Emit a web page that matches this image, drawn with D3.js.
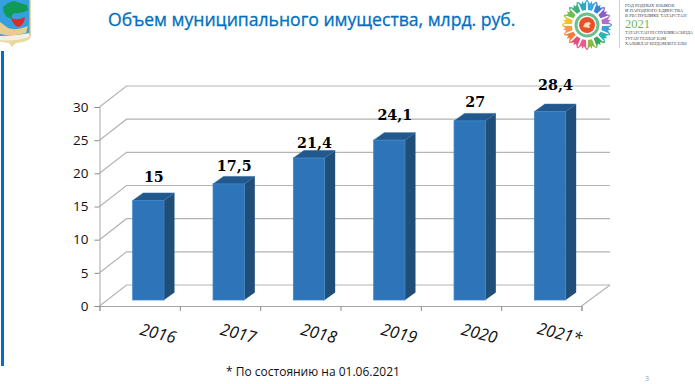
<!DOCTYPE html>
<html>
<head>
<meta charset="utf-8">
<script src="https://cdn.jsdelivr.net/npm/d3@7/dist/d3.min.js"></script>
<style>
  html, body { margin: 0; padding: 0; background: #fff; }
  svg { display: block; }
  text { font-family: "Open Sans", sans-serif; }
  .domain { stroke: #a6a6a6; }
  .tick line { stroke: #8c8c8c; }
</style>
</head>
<body>
<div id="chart"></div>
<script>
// chart values
const years = ["2016", "2017", "2018", "2019", "2020", "2021*"];
const values = [15, 17.5, 21.4, 24.1, 27, 28.4];
const valueLabels = ["15", "17,5", "21,4", "24,1", "27", "28,4"];
const labelLift = [19, 13, 10, 20, 14, 22]; // labels sit unevenly in the original
const yTicks = [0, 5, 10, 15, 20, 25, 30];

// logo bits
const petalColors = ["#38a9e0", "#3f7fd0", "#8a5fc0", "#b070c8", "#3aa0dc", "#2bb5b0", "#35a860", "#8fb840",
                     "#e85a90", "#e0507a", "#f07a40", "#f59a40", "#f5c030", "#6fbf50", "#3fb080", "#30a8c0"];
const logoLines1 = ["ГОД РОДНЫХ ЯЗЫКОВ", "И НАРОДНОГО ЕДИНСТВА", "В РЕСПУБЛИКЕ ТАТАРСТАН"];
const logoLines2 = ["ТАТАРСТАН РЕСПУБЛИКАСЫНДА", "ТУГАН ТЕЛЛӘР БӘМ", "ХАЛЫКЛАР БЕРДӘМЛЕГЕ ЕЛЫ"];

const width = 695, height = 384;
const margin = {left: 99.5, right: 113.5, bottom: 78, top: 107};
const depthX = 27, depthY = 21;      // wall offset
const barDepthX = 10.5, barDepthY = 7.5;

const svg = d3.select("#chart").append("svg")
    .attr("width", width)
    .attr("height", height);

const x = d3.scaleBand()
    .domain(years)
    .range([margin.left, width - margin.right])
    .paddingInner(0);

const y = d3.scaleLinear()
    .domain([0, 30])
    .range([height - margin.bottom, margin.top]);

const g = svg.append("g");

// back wall and floor lines
g.selectAll(".grid")
    .data(yTicks)
    .enter().append("polyline")
    .attr("class", "grid")
    .attr("fill", "none")
    .attr("stroke", "#b4b4b4")
    .attr("stroke-width", 1.2)
    .attr("points", d => [
        [margin.left, y(d)],
        [margin.left + depthX, y(d) - depthY],
        [width - margin.right + depthX + 1.5, y(d) - depthY]
    ].join(" "));

g.append("line")
    .attr("x1", width - margin.right)
    .attr("y1", y(0))
    .attr("x2", width - margin.right + depthX + 1.5)
    .attr("y2", y(0) - depthY)
    .attr("stroke", "#b4b4b4")
    .attr("stroke-width", 1.2);

// axes
const yAxis = d3.axisLeft(y).tickValues(yTicks).tickSize(5).tickPadding(6);
g.append("g")
    .attr("transform", `translate(${margin.left},0)`)
    .call(yAxis)
    .call(a => a.selectAll("text").attr("font-size", 13.5).attr("fill", "#111").style("font-family", "'Open Sans', sans-serif"));

const xEdge = d3.scaleLinear().domain([0, 6]).range(x.range());
g.append("g")
    .attr("transform", `translate(0,${y(0)})`)
    .call(d3.axisBottom(xEdge).ticks(6).tickSize(5).tickSizeOuter(5).tickFormat(""));

g.selectAll(".year")
    .data(years)
    .enter().append("text")
    .attr("class", "year")
    .attr("transform", d => `translate(${x(d) + x.bandwidth() / 2 + 17},${y(0) + 33}) rotate(14)`)
    .attr("text-anchor", "middle")
    .attr("font-size", 16.5)
    .attr("font-style", "italic")
    .attr("fill", "#111")
    .text(d => d);

// bars, drawn as front + side + top
const barW = 31.3, barInset = 33.2, barBase = y(0) - 6;
const barH = d => y(0) - y(d);

const bars = g.selectAll(".bar")
    .data(values)
    .enter().append("g")
    .attr("class", "bar")
    .attr("transform", (d, i) => `translate(${x(years[i]) + barInset},${barBase})`);

bars.append("path") // side
    .attr("fill", "#1f4e79")
    .attr("d", d => `M${barW},0 L${barW + barDepthX},${-barDepthY} V${-barH(d) - barDepthY} L${barW},${-barH(d)} Z`);

bars.append("path") // top
    .attr("fill", "#23588c")
    .attr("stroke", "#2f6ca5")
    .attr("stroke-width", 0.6)
    .attr("d", d => `M0,${-barH(d)} L${barDepthX},${-barH(d) - barDepthY} H${barW + barDepthX} L${barW},${-barH(d)} Z`);

bars.append("rect") // front
    .attr("x", 0)
    .attr("y", d => -barH(d))
    .attr("width", barW)
    .attr("height", d => barH(d))
    .attr("fill", "#2e74b8")
    .attr("stroke", "#3f86c8")
    .attr("stroke-width", 0.8);

// value labels
g.selectAll(".val")
    .data(values)
    .enter().append("text")
    .attr("class", "val")
    .attr("x", (d, i) => x(years[i]) + barInset + barW / 2 + 5.5)
    .attr("y", (d, i) => barBase - barH(d) - labelLift[i])
    .attr("text-anchor", "middle")
    .attr("font-size", 14.3)
    .attr("font-weight", "bold")
    .style("font-family", "'DejaVu Serif', serif")
    .attr("fill", "#000")
    .text((d, i) => valueLabels[i]);

// title, footnote, page number
svg.append("text")
    .attr("x", 108)
    .attr("y", 26)
    .attr("font-size", 17.6)
    .attr("fill", "#0070c0")
    .attr("stroke", "#0070c0")
    .attr("stroke-width", 0.3)
    .text("Объем муниципального имущества, млрд. руб.");

svg.append("text")
    .attr("x", 226)
    .attr("y", 375.5)
    .attr("font-size", 12)
    .attr("fill", "#111")
    .text("* По состоянию на 01.06.2021");

svg.append("text")
    .attr("x", 647)
    .attr("y", 381)
    .attr("font-size", 7)
    .attr("text-anchor", "middle")
    .attr("fill", "#999")
    .text("3");

// blue rule on the left
svg.append("rect")
    .attr("x", 1)
    .attr("y", 51)
    .attr("width", 3)
    .attr("height", 315)
    .attr("fill", "#0070c0");

// coat of arms
const arms = svg.append("g");
arms.append("path").attr("d", "M0,0 H31 V36 Q30,42 16,43 L12,47 L9,43 Q0,42 0,41 Z").attr("fill", "#e8d9a0");
arms.append("path").attr("d", "M0,0 H29.5 V34 L0,36 Z").attr("fill", "#35a0e0");
arms.append("path").attr("d", "M3,7 L8,3 L14,1 L20,3 L27,5 L28,10 Q22,14 15,13 Q11,14 12,19 L7,17 Q3,13 3,7 Z").attr("fill", "#0f9a55");
arms.append("path").attr("d", "M11,18 Q17,21 25,17 Q24,26 18,27 Q13,25 11,18 Z").attr("fill", "#e02a2a");
arms.append("path").attr("d", "M0,22 L8,28 Q16,31 28,26 L26,33 Q14,37 0,34 Z").attr("fill", "#e6cf8e");
arms.append("path").attr("d", "M0,36 Q14,37 29,33 V37 Q14,42 0,40 Z").attr("fill", "#f4efe0");

// year logo: petal sunburst
const sun = svg.append("g").attr("transform", "translate(587,25)");
sun.selectAll(".petal")
    .data(petalColors)
    .enter().append("path")
    .attr("class", "petal")
    .attr("transform", (d, i) => `rotate(${(i + 0.5) * 360 / petalColors.length})`)
    .attr("d", "M-2,-15 L-4.2,-24.5 L-1.2,-21.5 L0,-24.5 L1.2,-21.5 L4.2,-24.5 L2,-15 Z")
    .attr("fill", d => d);
sun.selectAll(".dot")
    .data(petalColors)
    .enter().append("circle")
    .attr("class", "dot")
    .attr("transform", (d, i) => `rotate(${i * 360 / petalColors.length})`)
    .attr("cy", -24)
    .attr("r", 1)
    .attr("fill", d => d);
sun.append("circle").attr("r", 11).attr("fill", "none").attr("stroke", "#6cc08c").attr("stroke-width", 3);
sun.append("circle").attr("r", 8).attr("fill", "#e8502a");
sun.append("path").attr("d", "M-4,2 L-2,-2 L2,-3 L4,-1 L2,0 L3,3 Z").attr("fill", "#f8e0c0");

svg.append("line")
    .attr("x1", 619.5).attr("x2", 619.5)
    .attr("y1", 0).attr("y2", 48)
    .attr("stroke", "#d0d0d0");

const logoText = svg.append("g")
    .attr("fill", "#444");
logoText.selectAll(".l1").data(logoLines1).enter().append("text")
    .attr("x", 625)
    .attr("y", (d, i) => 6.5 + i * 5.2)
    .attr("font-size", 4.6)
    .style("font-family", "'Liberation Serif', serif")
    .text(d => d);
logoText.selectAll(".l2").data(logoLines2).enter().append("text")
    .attr("x", 625)
    .attr("y", (d, i) => 34 + i * 5.6)
    .attr("font-size", 4.2)
    .style("font-family", "'Liberation Serif', serif")
    .text(d => d);
svg.append("text")
    .attr("x", 625)
    .attr("y", 27.5)
    .attr("font-size", 12.5)
    .attr("fill", "#6cb85a")
    .style("font-family", "'Liberation Serif', serif")
    .text("2021");
</script>
</body>
</html>
